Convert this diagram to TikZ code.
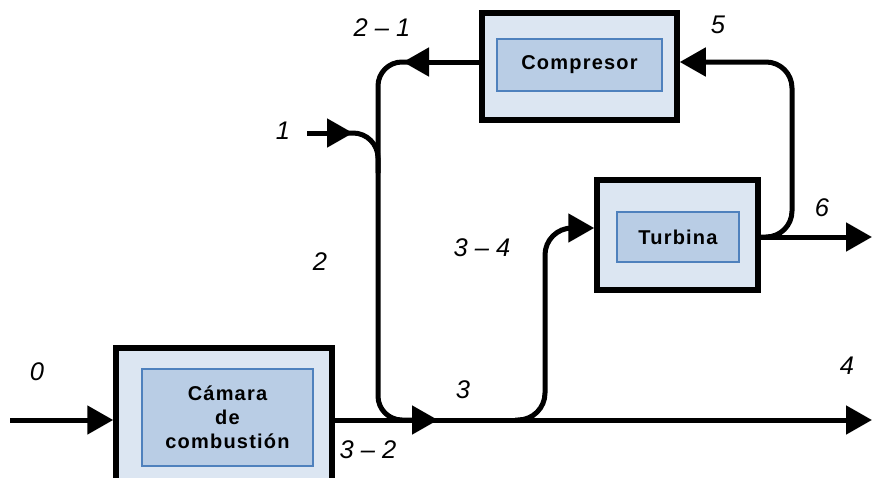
\documentclass[tikz,border=0pt]{standalone}
\usepackage{fontspec}
\setmainfont{Liberation Sans}
\usetikzlibrary{arrows.meta}
\definecolor{outerfill}{HTML}{DCE6F2}
\definecolor{innerfill}{HTML}{B9CDE5}
\definecolor{innerline}{HTML}{4F81BD}
\tikzset{
  outerbox/.style={draw=black, line width=5.5pt, fill=outerfill, inner sep=0pt},
  innerbox/.style={draw=innerline, line width=1.5pt, fill=innerfill, inner sep=0pt,
    align=center, font=\fontsize{20}{24}\selectfont\bfseries\addfontfeatures{LetterSpace=6}},
  flow/.style={line width=5pt, line join=round},
  arr/.style={-{Triangle[length=26pt,width=28pt]}},
  lbl/.style={font=\fontsize{25.5}{28}\selectfont\itshape, inner sep=0pt}
}
\begin{document}
\begin{tikzpicture}[x=1pt,y=-1pt]
\useasboundingbox (0,0) rectangle (872,477);

% equipment blocks
\node[outerbox, minimum width=216pt, minimum height=138pt] (cam) at (224,417) {};
\node[innerbox, minimum width=171pt, minimum height=97pt] (camin) at (227.5,417.5) {Cámara\\de\\combustión};
\node[outerbox, minimum width=195pt, minimum height=107pt] (comp) at (579.5,66.5) {};
\node[innerbox, minimum width=165pt, minimum height=52pt] (compin) at (579.5,65) {Compresor};
\node[outerbox, minimum width=161pt, minimum height=110pt] (turb) at (677.5,235) {};
\node[innerbox, minimum width=122pt, minimum height=50pt] (turbin) at (678,237) {Turbina};

% reference points of the flow lines
\coordinate (p0) at (10,420);
\coordinate (p4) at (872,420);
\coordinate (p3) at (438,420);
\coordinate (p1s) at (307,133);
\coordinate (p1) at (353,133);
\coordinate (p1b) at (343,133);
\coordinate (p21) at (403,62);
\coordinate (p21b) at (413,62);
\coordinate (lx) at (378,0);
\coordinate (b34) at (515,420);
\coordinate (rx) at (792,0);
\coordinate (tin) at (0,228);
\coordinate (tout) at (0,237);
\coordinate (p6) at (872,237);
\coordinate (cy) at (0,62);

% main stream
\draw[flow,arr] (p0) -- (p0 -| cam.west);
\draw[flow,arr] (cam.east |- p0) -- (p4);

% compressor discharge to the mixing point
\draw[flow,rounded corners=24pt,arr] (p21b) -- (lx |- cy) -- (lx |- p0) -- (p3);
\draw[flow,arr] (comp.west |- cy) -- (p21);

% fresh air inlet
\draw[flow,rounded corners=25pt] (p1b) -- (lx |- p1) -- ([yshift=-40pt]lx |- p1);
\draw[flow,arr] (p1s) -- (p1);

% branch to the turbine
\draw[flow,arr,rounded corners=27pt] (b34) -- (545,420) -- (545,228) -- (turb.west |- tin);

% turbine exhaust and shaft return to the compressor
\draw[flow,arr] (turb.east |- tout) -- (p6);
\draw[flow,arr,rounded corners=26pt] (turb.east |- tout) -- (rx |- tout) -- (rx |- cy) -- (comp.east |- cy);

% stream labels
\node[lbl] (l21) at (382,28) {2 – 1};
\node[lbl] (l5) at (718,25) {5};
\node[lbl] (l1) at (283,131) {1};
\node[lbl] (l6) at (822,208) {6};
\node[lbl] (l2) at (320,262) {2};
\node[lbl] (l34) at (482,248) {3 – 4};
\node[lbl] (l0) at (37,372) {0};
\node[lbl] (l4) at (847,366) {4};
\node[lbl] (l3) at (463,390) {3};
\node[lbl] (l32) at (368,450) {3 – 2};
\end{tikzpicture}
\end{document}
